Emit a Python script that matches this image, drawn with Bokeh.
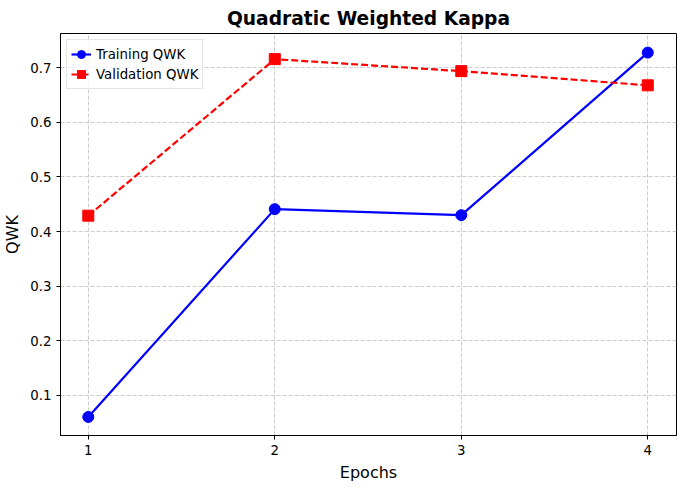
from bokeh.plotting import figure
from bokeh.models import Range1d, FixedTicker
from bokeh.embed import file_html
from bokeh.resources import INLINE

epochs = [1, 2, 3, 4]
train_qwk = [0.060, 0.441, 0.430, 0.728]
val_qwk = [0.429, 0.716, 0.694, 0.668]

p = figure(width=680, height=484, output_backend="svg", toolbar_location=None,
           title="Quadratic Weighted Kappa",
           x_range=Range1d(0.851, 4.154), y_range=Range1d(0.026, 0.763),
           min_border_left=54, min_border_right=4, min_border_top=20, min_border_bottom=30)
p.title.align = "center"
p.title.text_font = "DejaVu Sans"
p.title.text_font_size = "14pt"
p.title.text_font_style = "bold"
p.title.text_color = "black"

p.line(epochs, train_qwk, color="blue", line_width=2.2, legend_label="Training QWK")
p.scatter(epochs, train_qwk, color="blue", size=11, legend_label="Training QWK")
p.line(epochs, val_qwk, color="red", line_width=2.2, line_dash="7 3", legend_label="Validation QWK")
p.scatter(epochs, val_qwk, color="red", marker="square", size=11, legend_label="Validation QWK")

p.xaxis.ticker = FixedTicker(ticks=epochs)
p.yaxis.ticker = FixedTicker(ticks=[0.1, 0.2, 0.3, 0.4, 0.5, 0.6, 0.7])
p.xaxis.axis_label = "Epochs"
p.yaxis.axis_label = "QWK"
for ax in (p.xaxis, p.yaxis):
    ax.axis_label_text_font = "DejaVu Sans"
    ax.axis_label_text_font_size = "12pt"
    ax.axis_label_text_font_style = "normal"
    ax.axis_label_text_color = "black"
    ax.major_label_text_font = "DejaVu Sans"
    ax.major_label_text_font_size = "10pt"
    ax.major_label_text_color = "black"
    ax.minor_tick_line_color = None
    ax.major_tick_out = 4
    ax.major_tick_in = 0
    ax.major_tick_line_color = "black"
    ax.axis_line_color = "black"

p.grid.grid_line_color = "#cccccc"
p.grid.grid_line_dash = "4 2"
p.outline_line_color = "black"

p.legend.location = "top_left"
p.legend.label_text_font = "DejaVu Sans"
p.legend.label_text_font_size = "10pt"
p.legend.label_text_color = "black"
p.legend.border_line_color = "#cccccc"
p.legend.background_fill_alpha = 0.8
p.legend.spacing = 0
p.legend.padding = 4
p.legend.margin = 6

open("out.html", "w").write(file_html(p, INLINE))
